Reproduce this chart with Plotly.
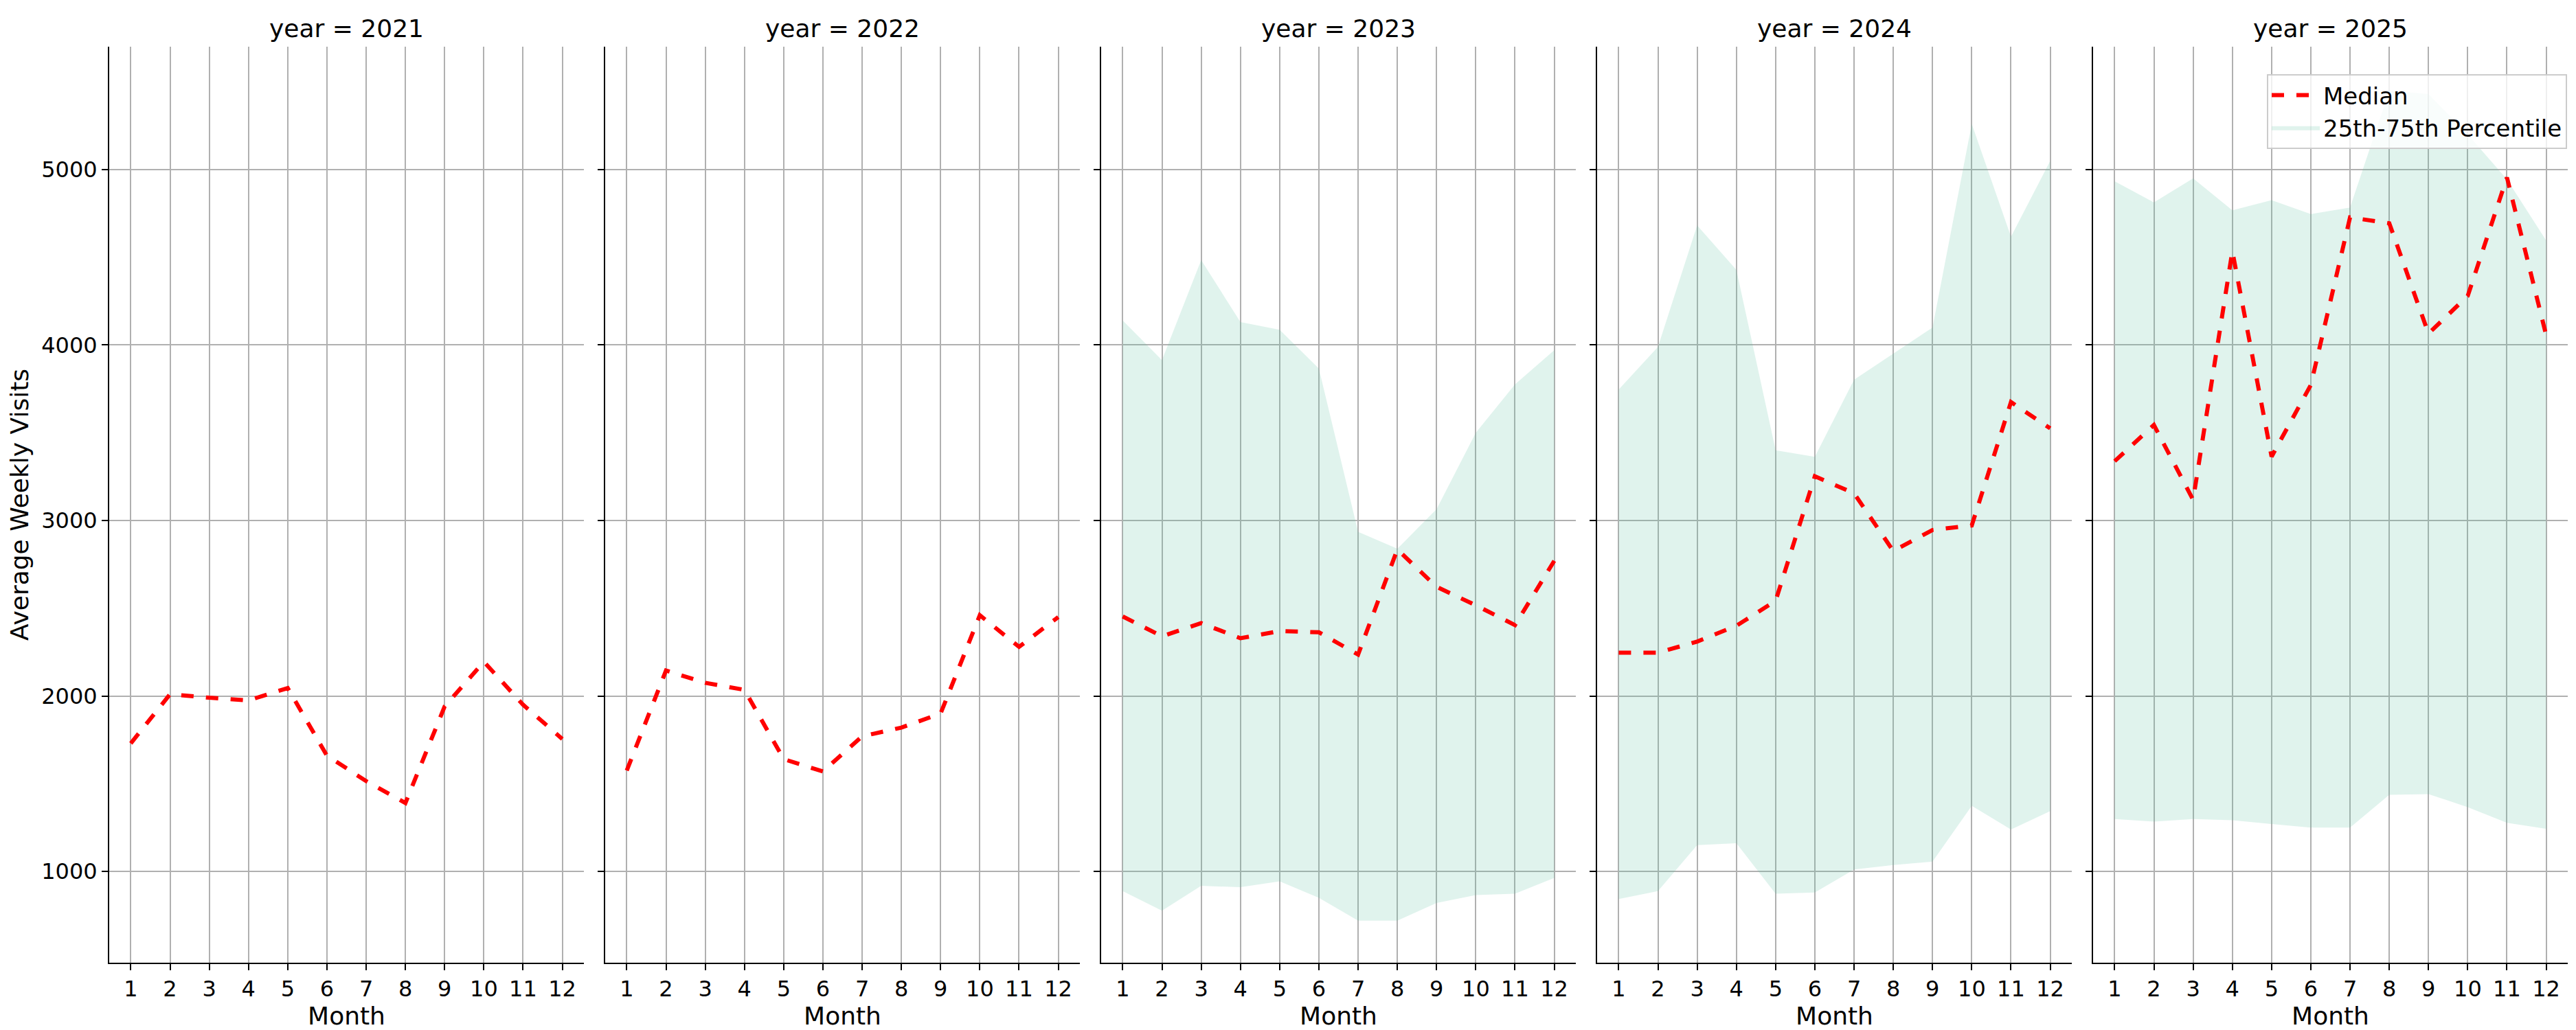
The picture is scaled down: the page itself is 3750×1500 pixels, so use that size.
import plotly.graph_objects as go

months = list(range(1, 13))
years = [2021, 2022, 2023, 2024, 2025]
median = {
    2021: [1730, 2010, 1990, 1975, 2045, 1660, 1515, 1390, 1940, 2195, 1950, 1755],
    2022: [1575, 2145, 2075, 2035, 1640, 1570, 1770, 1820, 1900, 2460, 2280, 2450],
    2023: [2453, 2340, 2415, 2329, 2370, 2363, 2236, 2835, 2622, 2517, 2404, 2770],
    2024: [2247, 2247, 2310, 2400, 2542, 3252, 3155, 2826, 2946, 2972, 3675, 3525],
    2025: [3338, 3544, 3118, 4535, 3364, 3772, 4727, 4694, 4065, 4280, 4955, 4056],
}
p25 = {
    2021: None, 2022: None,
    2023: [888, 776, 918, 910, 944, 850, 720, 720, 820, 865, 873, 963],
    2024: [843, 888, 1150, 1161, 873, 880, 1011, 1037, 1056, 1374, 1239, 1344],
    2025: [1299, 1284, 1299, 1292, 1270, 1250, 1250, 1437, 1441, 1366, 1277, 1243],
}
p75 = {
    2021: None, 2022: None,
    2023: [4140, 3914, 4484, 4131, 4087, 3866, 2935, 2839, 3065, 3500, 3776, 3970],
    2024: [3746, 3989, 4682, 4428, 3400, 3363, 3802, 3951, 4100, 5260, 4617, 5049],
    2025: [4933, 4813, 4950, 4768, 4825, 4746, 4783, 5450, 5430, 5200, 4944, 4596],
}

W, H = 3750, 1500
fig = go.Figure()
starts = [151, 873, 1595, 2317, 3039]
pw = 691
font = "DejaVu Sans"
fill_col = "rgba(102,194,165,0.2)"
shown_fill = False
for i, y in enumerate(years):
    ax = "" if i == 0 else str(i + 1)
    xa, ya = "x" + ax, "y" + ax
    if p25[y] is not None:
        fig.add_trace(go.Scatter(x=months, y=p25[y], mode="lines", line=dict(width=0),
                                 xaxis=xa, yaxis=ya, showlegend=False, hoverinfo="skip"))
        fig.add_trace(go.Scatter(x=months, y=p75[y], mode="lines", line=dict(width=0),
                                 fill="tonexty", fillcolor=fill_col, xaxis=xa, yaxis=ya,
                                 name="25th-75th Percentile", showlegend=not shown_fill))
        shown_fill = True
    fig.add_trace(go.Scatter(x=months, y=median[y], mode="lines",
                             line=dict(color="red", width=6, dash="dash"),
                             xaxis=xa, yaxis=ya, name="Median", showlegend=(i == 0)))
    d0, d1 = starts[i] / W, (starts[i] + pw) / W
    common = dict(showgrid=True, gridcolor="#b0b0b0", gridwidth=2, zeroline=False,
                  showline=True, linecolor="black", linewidth=2, ticks="outside",
                  ticklen=9, tickwidth=2, tickcolor="black",
                  tickfont=dict(size=32, family=font, color="black"))
    fig.layout["xaxis" + ax] = dict(common, domain=[d0, d1], range=[0.45, 12.55],
                                    tickvals=months, anchor=ya,
                                    title=dict(text="Month", font=dict(size=36, family=font, color="black"), standoff=6))
    yd = dict(common, domain=[1 - 1394 / H, 1 - 60 / H], range=[480, 5700],
              tickvals=[1000, 2000, 3000, 4000, 5000], anchor=xa,
              showticklabels=(i == 0))
    if i == 0:
        yd["title"] = dict(text="Average Weekly Visits", font=dict(size=36, family=font, color="black"), standoff=14)
    else:
        yd["matches"] = "y"
    fig.layout["yaxis" + ax] = yd
    fig.add_annotation(text=f"year = {y}", xref="paper", yref="paper",
                       x=(d0 + d1) / 2, y=1 - 60 / H, yanchor="bottom", xanchor="center",
                       showarrow=False, yshift=4, font=dict(size=36, family=font, color="black"))

fig.update_layout(width=W, height=H, margin=dict(l=0, r=0, t=0, b=0),
                  plot_bgcolor="white", paper_bgcolor="white",
                  legend=dict(x=3729 / W, y=1 - 100 / H, xanchor="right", yanchor="top",
                              traceorder="normal",
                              bgcolor="rgba(255,255,255,0.8)", bordercolor="#cccccc", borderwidth=2,
                              font=dict(size=34, family=font, color="black"), itemwidth=70))
fig.write_html("out.html")
